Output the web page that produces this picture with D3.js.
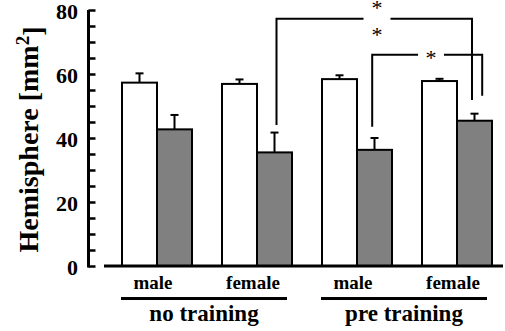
<!DOCTYPE html>
<html><head><meta charset="utf-8">
<script src="https://cdn.jsdelivr.net/npm/d3@7"></script>
<style>
html,body{margin:0;padding:0;background:#fff;}
svg{display:block;}
text{font-family:"Liberation Serif","Times New Roman",serif;}
</style></head>
<body>
<svg id="chart" width="505" height="331"></svg>
<script>
// ---- data ----
const groups = ["nt_male","nt_female","pt_male","pt_female"];
const groupLabels = ["male","female","male","female"];
const conditions = ["no training","pre training"];
const conditionGroups = [[0,1],[2,3]];
const series = ["white","gray"];
const whiteValues = [57.3, 56.9, 58.4, 57.8];
const whiteErrors = [2.9, 1.4, 1.2, 0.7];
const grayValues = [42.7, 35.5, 36.3, 45.4];
const grayErrors = [4.5, 6.2, 3.7, 2.2];
const yTicks = [0, 20, 40, 60, 80];
const yMinorTicks = d3.range(0, 81, 5);
// significance brackets: from gray bar of group a to gray bar of group b
const bracketFrom = [1, 2];
const bracketTo = [3, 3];
const bracketTop = [77.3, 66.0];
const bracketLeftEnd = [44.1, 43.5];
const bracketRightEnd = [51.9, 53.2];
const bracketStars = [["*","*"], ["*"]];

// ---- layout ----
const svg = d3.select("#chart");
const y = d3.scaleLinear().domain([0, 80]).range([266, 10]);
const x = d3.scaleBand().domain(groups).range([107, 507]).paddingInner(0.3).paddingOuter(0.15);
const xs = d3.scaleBand().domain(series).range([0, x.bandwidth()]);

// y axis
const axisX = 88.5;
const yAxis = d3.axisRight(y).tickValues(yMinorTicks).tickSize(7).tickFormat("");
const gy = svg.append("g").attr("transform", `translate(${axisX},0)`).call(yAxis);
gy.select(".domain").remove();
gy.selectAll(".tick line").attr("stroke", "#000").attr("stroke-width", 2.5);
svg.append("line").attr("x1", axisX).attr("x2", axisX).attr("y1", y(80)).attr("y2", y(0) + 1.5)
  .attr("stroke", "#000").attr("stroke-width", 3);
svg.append("g").selectAll("text").data(yTicks).join("text")
  .attr("x", 78).attr("y", d => y(d)).attr("dy", "0.39em")
  .attr("text-anchor", "end").attr("font-weight", "bold").attr("font-size", 22)
  .text(d => d);

// y title
svg.append("text")
  .attr("transform", `translate(37.5,139.5) rotate(-90)`)
  .attr("text-anchor", "middle").attr("font-weight", "bold").attr("font-size", 28)
  .html('Hemisphere [mm<tspan dy="-0.45em" font-size="19">2</tspan><tspan dy="0.45em">]</tspan>');

// bars
const barData = [];
groups.forEach((g, i) => {
  barData.push({g, s: "white", v: whiteValues[i], e: whiteErrors[i]});
  barData.push({g, s: "gray", v: grayValues[i], e: grayErrors[i]});
});
const bars = svg.append("g");
bars.selectAll("line.err").data(barData).join("line").attr("class", "err")
  .attr("x1", d => x(d.g) + xs(d.s) + xs.bandwidth() / 2)
  .attr("x2", d => x(d.g) + xs(d.s) + xs.bandwidth() / 2)
  .attr("y1", d => y(d.v)).attr("y2", d => y(d.v + d.e))
  .attr("stroke", "#000").attr("stroke-width", 2);
bars.selectAll("line.cap").data(barData).join("line").attr("class", "cap")
  .attr("x1", d => x(d.g) + xs(d.s) + xs.bandwidth() / 2 - 4)
  .attr("x2", d => x(d.g) + xs(d.s) + xs.bandwidth() / 2 + 4)
  .attr("y1", d => y(d.v + d.e)).attr("y2", d => y(d.v + d.e))
  .attr("stroke", "#000").attr("stroke-width", 2);
bars.selectAll("rect").data(barData).join("rect")
  .attr("x", d => x(d.g) + xs(d.s))
  .attr("width", xs.bandwidth())
  .attr("y", d => y(d.v))
  .attr("height", d => y(0) - y(d.v))
  .attr("fill", d => d.s === "white" ? "#fff" : "#808080")
  .attr("stroke", "#000").attr("stroke-width", 2);

// x baseline
svg.append("line").attr("x1", 104).attr("x2", 503).attr("y1", y(0)).attr("y2", y(0))
  .attr("stroke", "#000").attr("stroke-width", 3);

// group labels
svg.append("g").selectAll("text").data(groups).join("text")
  .attr("x", (d, i) => x(d) + x.bandwidth() / 2 - 4)
  .attr("y", 288.5)
  .attr("text-anchor", "middle").attr("font-weight", "bold").attr("font-size", 19)
  .text((d, i) => groupLabels[i]);

// condition underline + labels
conditions.forEach((c, k) => {
  const [a, b] = conditionGroups[k];
  const x1 = x(groups[a]) - 1;
  const x2 = x(groups[b]) + x.bandwidth() - 5;
  svg.append("line").attr("x1", x1).attr("x2", x2).attr("y1", 298.5).attr("y2", 298.5)
    .attr("stroke", "#000").attr("stroke-width", 3);
  svg.append("text").attr("x", (x1 + x2) / 2).attr("y", 321)
    .attr("text-anchor", "middle").attr("font-weight", "bold").attr("font-size", 23)
    .text(c);
});

// significance brackets
const grayCenter = gi => x(groups[gi]) + xs("gray") + xs.bandwidth() / 2;
const bracketDx = [[2, -2.5], [-2.3, 7.7]];
const gapHalf = [13.5, 13];
const starX = [377, 431];
bracketFrom.forEach((f, k) => {
  const xl = grayCenter(f) + bracketDx[k][0];
  const xr = grayCenter(bracketTo[k]) + bracketDx[k][1];
  const yt = y(bracketTop[k]);
  const sx = starX[k];
  const g = svg.append("g").attr("fill", "none").attr("stroke", "#000").attr("stroke-width", 2);
  g.append("path").attr("d", `M${xl},${y(bracketLeftEnd[k])}V${yt}H${sx - gapHalf[k]}`);
  g.append("path").attr("d", `M${sx + gapHalf[k]},${yt}H${xr}V${y(bracketRightEnd[k])}`);
  const stars = bracketStars[k];
  stars.forEach((s, j) => {
    const cy = stars.length === 2 ? (j === 0 ? yt - 14 : yt + 13) : yt;
    svg.append("text").attr("x", sx).attr("y", cy + 10)
      .attr("text-anchor", "middle").attr("font-size", 22).text(s);
  });
});
</script>
</body></html>
